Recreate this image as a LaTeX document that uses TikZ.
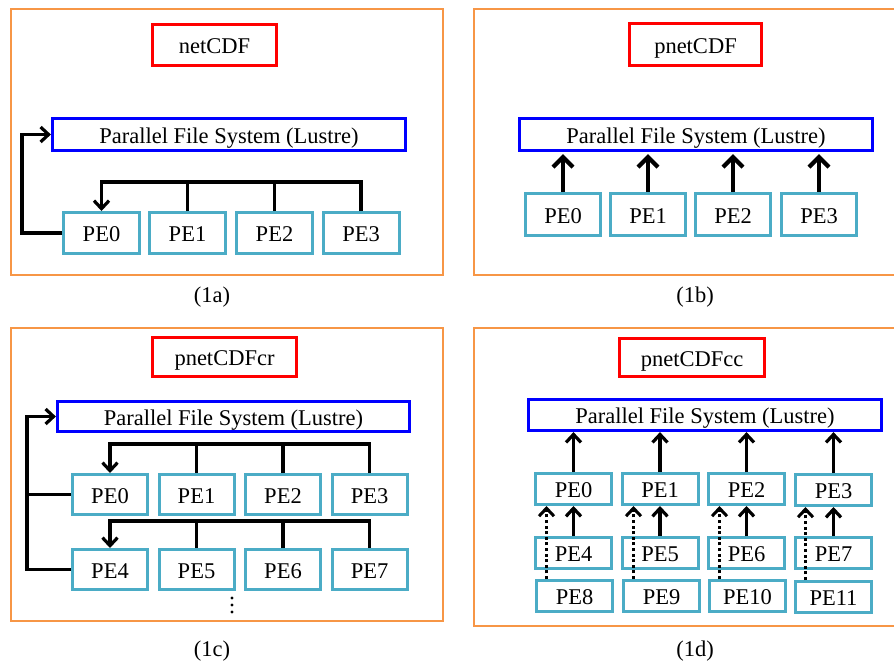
\documentclass[tikz,border=0pt]{standalone}
\usepackage{fontspec}
\setmainfont{Liberation Serif}
\usetikzlibrary{arrows.meta}
\definecolor{frameC}{HTML}{F79646}
\definecolor{peC}{HTML}{4BACC6}
\begin{document}
\begin{tikzpicture}[x=1pt,y=-1pt,
  every node/.style={font=\fontsize{22.5}{26}\selectfont, inner sep=0pt, text height=17pt, text depth=0pt},
  framebox/.style={draw=frameC, line width=2.8pt},
  ttl/.style={draw=red, line width=3.2pt},
  pfsbox/.style={draw=blue, line width=3.2pt},
  pebox/.style={draw=peC, line width=3pt},
  ln/.style={line width=3.2pt, black},
  arr/.style={ln, -{Straight Barb[length=8pt,width=15pt]}},
  bigarr/.style={line width=4.2pt, -{Straight Barb[length=10pt,width=20pt]}},
  dotarr/.style={line width=3pt, dash pattern=on 3pt off 2.6pt, -{Straight Barb[length=8pt,width=15pt]}}
]
\useasboundingbox (0,0) rectangle (894,664);
\clip (0,0) rectangle (894,664);
\fill[white] (0,0) rectangle (894,664);

% ---------- (1a)
\draw[framebox] (11,9) rectangle (443,275);
\node[ttl, minimum width=124, minimum height=41] (ta) at (214.5,45) {netCDF};
\node[pfsbox, minimum width=353, minimum height=32] (pa) at (229,134.5) {Parallel File System (Lustre)};
\node[pebox, minimum width=76, minimum height=41] (a0) at (101.5,233) {PE0};
\node[pebox, minimum width=76, minimum height=41] (a1) at (187.5,233) {PE1};
\node[pebox, minimum width=76, minimum height=41] (a2) at (274.5,233) {PE2};
\node[pebox, minimum width=76, minimum height=41] (a3) at (361,233) {PE3};
\coordinate (busa) at (0,182);
\draw[arr] (a3.north) |- (a0.north |- busa) -- (a0.north);
\draw[ln] (a1.north) -- (a1.north |- busa);
\draw[ln] (a2.north) -- (a2.north |- busa);
\draw[arr] (a0.west) -- ++(-40,0) |- (pa.west);
\node (la) at (212,294) {(1a)};

% ---------- (1b)
\draw[framebox] (474,9) rectangle (900,275);
\node[ttl, minimum width=132, minimum height=42] (tb) at (695.5,44.5) {pnetCDF};
\node[pfsbox, minimum width=353, minimum height=32] (pb) at (696,134.5) {Parallel File System (Lustre)};
\node[pebox, minimum width=75, minimum height=42] (b0) at (563,214.5) {PE0};
\node[pebox, minimum width=75, minimum height=42] (b1) at (648,214.5) {PE1};
\node[pebox, minimum width=75, minimum height=42] (b2) at (733,214.5) {PE2};
\node[pebox, minimum width=75, minimum height=42] (b3) at (819,214.5) {PE3};
\foreach \i in {0,1,2,3}{
  \draw[bigarr] (b\i.north) -- ([yshift=-2pt]b\i.north |- pb.south);
}
\node (lb) at (695,294) {(1b)};

% ---------- (1c)
\draw[framebox] (11,328) rectangle (443,621);
\node[ttl, minimum width=144, minimum height=39] (tc) at (224.5,357) {pnetCDFcr};
\node[pfsbox, minimum width=352, minimum height=30] (pc) at (233.5,416.5) {Parallel File System (Lustre)};
\node[pebox, minimum width=75, minimum height=40] (c0) at (110,494.5) {PE0};
\node[pebox, minimum width=75, minimum height=40] (c1) at (196.5,494.5) {PE1};
\node[pebox, minimum width=75, minimum height=40] (c2) at (283,494.5) {PE2};
\node[pebox, minimum width=75, minimum height=40] (c3) at (369.5,494.5) {PE3};
\node[pebox, minimum width=75, minimum height=40] (c4) at (110,569.5) {PE4};
\node[pebox, minimum width=75, minimum height=40] (c5) at (196.5,569.5) {PE5};
\node[pebox, minimum width=75, minimum height=40] (c6) at (283,569.5) {PE6};
\node[pebox, minimum width=75, minimum height=40] (c7) at (369.5,569.5) {PE7};
\coordinate (busc1) at (0,444);
\coordinate (busc2) at (0,521);
\coordinate (leftc) at (27,0);
\draw[arr] (c3.north) |- (c0.north |- busc1) -- (c0.north);
\draw[ln] (c1.north) -- (c1.north |- busc1);
\draw[ln] (c2.north) -- (c2.north |- busc1);
\draw[arr] (c7.north) |- (c4.north |- busc2) -- (c4.north);
\draw[ln] (c5.north) -- (c5.north |- busc2);
\draw[ln] (c6.north) -- (c6.north |- busc2);
\draw[arr] (c4.west) -- (c4.west -| leftc) |- (pc.west);
\draw[ln] (c0.west) -- (c0.west -| leftc);
\fill (232,598) circle (1.7) (232,605) circle (1.7) (232,612) circle (1.7);
\node (lc) at (212,648) {(1c)};

% ---------- (1d)
\draw[framebox] (474,328) rectangle (900,626);
\node[ttl, minimum width=145, minimum height=38] (td) at (692,357.5) {pnetCDFcc};
\node[pfsbox, minimum width=353, minimum height=31] (pd) at (705,415) {Parallel File System (Lustre)};
\node[pebox, minimum width=76, minimum height=31] (d0) at (573.5,489) {PE0};
\node[pebox, minimum width=76, minimum height=31] (d1) at (660,489) {PE1};
\node[pebox, minimum width=76, minimum height=31] (d2) at (746.5,489) {PE2};
\node[pebox, minimum width=76, minimum height=31] (d3) at (833.5,490) {PE3};
\node[pebox, minimum width=76, minimum height=31] (d4) at (573.5,553) {PE4};
\node[pebox, minimum width=76, minimum height=31] (d5) at (660,553) {PE5};
\node[pebox, minimum width=76, minimum height=31] (d6) at (746.5,553) {PE6};
\node[pebox, minimum width=76, minimum height=31] (d7) at (833.5,553) {PE7};
\node[pebox, minimum width=76, minimum height=31] (d8) at (574.5,596) {PE8};
\node[pebox, minimum width=76, minimum height=31] (d9) at (661.5,596) {PE9};
\node[pebox, minimum width=76, minimum height=31] (d10) at (747.5,596) {PE10};
\node[pebox, minimum width=76, minimum height=31] (d11) at (833.5,597) {PE11};
\foreach \i in {0,1,2,3}{
  \draw[arr] (d\i.north) -- (d\i.north |- pd.south);
}
\foreach \a/\b in {4/0,5/1,6/2,7/3}{
  \draw[arr] (d\a.north) -- (d\a.north |- d\b.south);
}
\foreach \a/\b in {8/0,9/1,10/2,11/3}{
  \draw[dotarr] ([xshift=-28pt]d\a.north) -- ([xshift=-28pt]d\a.north |- d\b.south);
}
\node (ld) at (695,648) {(1d)};
\end{tikzpicture}
\end{document}
